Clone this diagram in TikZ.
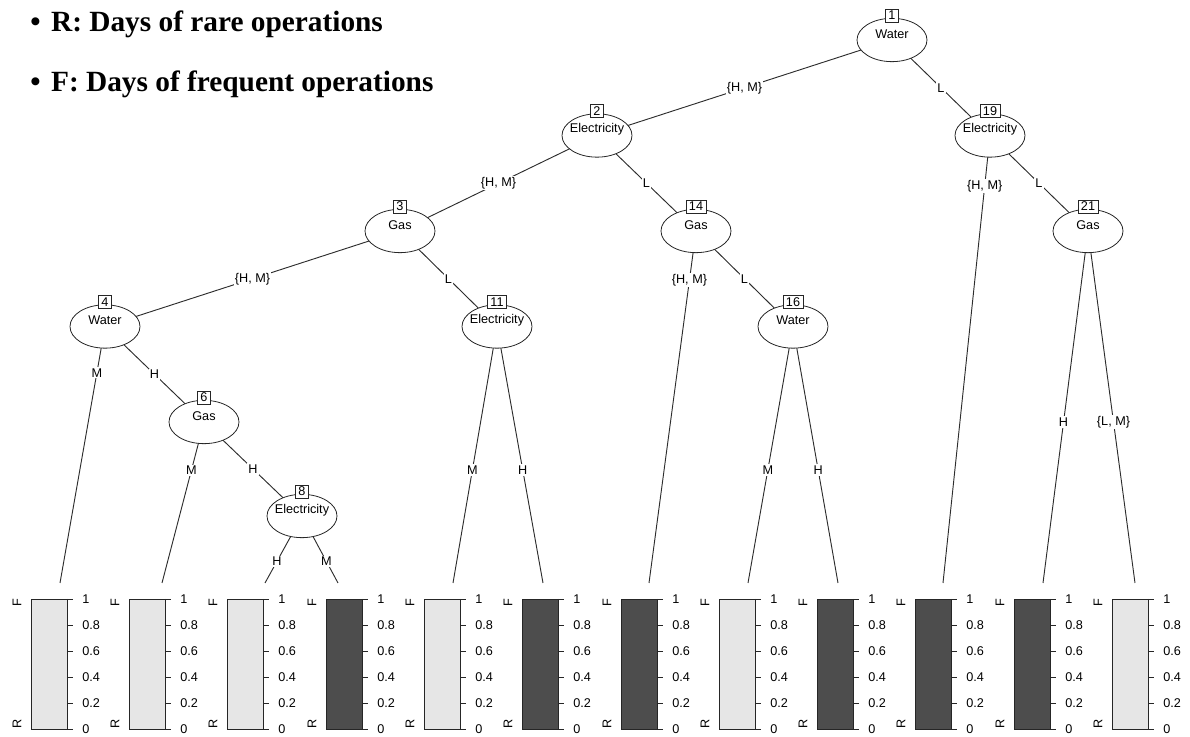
\documentclass[tikz,border=0pt]{standalone}
\usepackage{fontspec}
\setmainfont{Liberation Serif}
\setsansfont{Liberation Sans}
\usetikzlibrary{shapes.geometric, backgrounds}
\definecolor{light}{RGB}{230, 230, 230}
\definecolor{dark}{RGB}{77, 77, 77}
\definecolor{edgegray}{RGB}{45, 45, 45}
\newcommand{\rfont}{\sffamily\fontsize{9.5}{11}\selectfont}

\begin{document}
\begin{tikzpicture}[x=0.75pt, y=-0.75pt,
    split/.style={ellipse, draw=black!85, fill=white, line width=0.6pt, minimum width=52.5pt, minimum height=32.5pt, inner sep=0pt},
    idbox/.style={rectangle, draw=black!85, fill=white, line width=0.6pt, inner xsep=2.2pt, inner ysep=0.6pt, minimum height=9.8pt, font=\rfont},
    varname/.style={font=\rfont, inner sep=0pt},
    branch/.style={draw=edgegray, line width=0.7pt},
    elabel/.style={fill=white, inner sep=1pt, font=\rfont},
    bar/.style={draw=black!85, line width=0.6pt},
    axisline/.style={draw=black!85, line width=0.6pt},
    ticklabel/.style={anchor=west, inner sep=0pt, font=\rfont},
    classlabel/.style={rotate=90, inner sep=0pt, font=\rfont}]

        \useasboundingbox (0, 0) rectangle (1190, 737);

        % Key
        \node[anchor=base west, inner sep=0pt, font=\fontsize{22}{24}\selectfont\bfseries] (keyR) at (30, 32) {\textbullet\hspace{0.36em}R: Days of rare operations};
        \node[anchor=base west, inner sep=0pt, font=\fontsize{22}{24}\selectfont\bfseries] (keyF) at (30, 92) {\textbullet\hspace{0.36em}F: Days of frequent operations};

        % Inner nodes
        \node[split] (n1) at (892, 40) {};
        \node[split] (n2) at (597, 135.5) {};
        \node[split] (n19) at (990, 135.5) {};
        \node[split] (n3) at (400, 231) {};
        \node[split] (n14) at (696, 231) {};
        \node[split] (n21) at (1088, 231) {};
        \node[split] (n4) at (105, 326.5) {};
        \node[split] (n11) at (497, 326.5) {};
        \node[split] (n16) at (793, 326.5) {};
        \node[split] (n6) at (204, 422) {};
        \node[split] (n8) at (302, 516) {};

        \node[varname] (v1) at ([yshift=4.5pt]n1.center) {Water};
        \node[varname] (v2) at ([yshift=4.5pt]n2.center) {Electricity};
        \node[varname] (v19) at ([yshift=4.5pt]n19.center) {Electricity};
        \node[varname] (v3) at ([yshift=4.5pt]n3.center) {Gas};
        \node[varname] (v14) at ([yshift=4.5pt]n14.center) {Gas};
        \node[varname] (v21) at ([yshift=4.5pt]n21.center) {Gas};
        \node[varname] (v4) at ([yshift=4.5pt]n4.center) {Water};
        \node[varname] (v11) at ([yshift=4.5pt]n11.center) {Electricity};
        \node[varname] (v16) at ([yshift=4.5pt]n16.center) {Water};
        \node[varname] (v6) at ([yshift=4.5pt]n6.center) {Gas};
        \node[varname] (v8) at ([yshift=4.5pt]n8.center) {Electricity};

        \node[idbox] (b1) at ([yshift=1.8pt]n1.north) {1};
        \node[idbox] (b2) at ([yshift=1.8pt]n2.north) {2};
        \node[idbox] (b19) at ([yshift=1.8pt]n19.north) {19};
        \node[idbox] (b3) at ([yshift=1.8pt]n3.north) {3};
        \node[idbox] (b14) at ([yshift=1.8pt]n14.north) {14};
        \node[idbox] (b21) at ([yshift=1.8pt]n21.north) {21};
        \node[idbox] (b4) at ([yshift=1.8pt]n4.north) {4};
        \node[idbox] (b11) at ([yshift=1.8pt]n11.north) {11};
        \node[idbox] (b16) at ([yshift=1.8pt]n16.north) {16};
        \node[idbox] (b6) at ([yshift=1.8pt]n6.north) {6};
        \node[idbox] (b8) at ([yshift=1.8pt]n8.north) {8};

        % Terminal tops
        \coordinate (t5) at (60, 583);
        \coordinate (t7) at (162, 583);
        \coordinate (t9) at (265, 583);
        \coordinate (t10) at (338, 583);
        \coordinate (t12) at (453, 583);
        \coordinate (t13) at (543, 583);
        \coordinate (t15) at (649, 583);
        \coordinate (t17) at (748, 583);
        \coordinate (t18) at (838, 583);
        \coordinate (t20) at (943, 583);
        \coordinate (t22) at (1043, 583);
        \coordinate (t23) at (1135, 583);

        % Branches
        \begin{scope}[on background layer]
        \draw[branch] (n1.center) -- node[elabel, pos=0.5] (e2) {\{H, M\}} (n2.center);
        \draw[branch] (n1.center) -- node[elabel, pos=0.5] (e19) {L} (n19.center);
        \draw[branch] (n2.center) -- node[elabel, pos=0.5] (e3) {\{H, M\}} (n3.center);
        \draw[branch] (n2.center) -- node[elabel, pos=0.5] (e14) {L} (n14.center);
        \draw[branch] (n3.center) -- node[elabel, pos=0.5] (e4) {\{H, M\}} (n4.center);
        \draw[branch] (n3.center) -- node[elabel, pos=0.5] (e11) {L} (n11.center);
        \draw[branch] (n4.center) -- node[elabel, pos=0.18] (e5) {M} (t5);
        \draw[branch] (n4.center) -- node[elabel, pos=0.5] (e6) {H} (n6.center);
        \draw[branch] (n6.center) -- node[elabel, pos=0.30] (e7) {M} (t7);
        \draw[branch] (n6.center) -- node[elabel, pos=0.5] (e8) {H} (n8.center);
        \draw[branch] (n8.center) -- node[elabel, pos=0.68] (e9) {H} (t9);
        \draw[branch] (n8.center) -- node[elabel, pos=0.68] (e10) {M} (t10);
        \draw[branch] (n11.center) -- node[elabel, pos=0.56] (e12) {M} (t12);
        \draw[branch] (n11.center) -- node[elabel, pos=0.56] (e13) {H} (t13);
        \draw[branch] (n14.center) -- node[elabel, pos=0.139] (e15) {\{H, M\}} (t15);
        \draw[branch] (n14.center) -- node[elabel, pos=0.5] (e16) {L} (n16.center);
        \draw[branch] (n16.center) -- node[elabel, pos=0.56] (e17) {M} (t17);
        \draw[branch] (n16.center) -- node[elabel, pos=0.56] (e18) {H} (t18);
        \draw[branch] (n19.center) -- node[elabel, pos=0.113] (e20) {\{H, M\}} (t20);
        \draw[branch] (n19.center) -- node[elabel, pos=0.5] (e21) {L} (n21.center);
        \draw[branch] (n21.center) -- node[elabel, pos=0.543] (e22) {H} (t22);
        \draw[branch] (n21.center) -- node[elabel, pos=0.543] (e23) {\{L, M\}} (t23);
        \end{scope}

        % Terminal panels
        \foreach \bx/\col in {31/light, 129/light, 227/light, 326/dark, 424/light, 522/dark,
                              621/dark, 719/light, 817/dark, 915/dark, 1014/dark, 1112/light} {
            \filldraw[bar, fill=\col] (\bx, 599) rectangle (\bx + 36, 729);
            \draw[axisline] (\bx + 36, 599) -- (\bx + 36, 729);
            \foreach \v in {0, 0.2, 0.4, 0.6, 0.8, 1} {
                \draw[axisline] (\bx + 36, 729 - 130*\v) -- (\bx + 42, 729 - 130*\v);
                \node[ticklabel] at (\bx + 51, 729 - 130*\v) {\v};
            }
            \node[classlabel] at (\bx - 14, 603) {F};
            \node[classlabel] at (\bx - 14, 724) {R};
        }
\end{tikzpicture}
\end{document}
